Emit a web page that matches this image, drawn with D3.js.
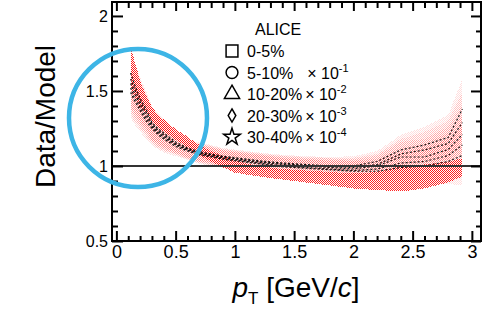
<!DOCTYPE html>
<html>
<head>
<meta charset="utf-8">
<script src="https://cdn.jsdelivr.net/npm/d3@7"></script>
<style>
  body { margin: 0; background: #fff; }
  text { font-family: "Liberation Sans", Arial, Helvetica, sans-serif; fill: #000; }
</style>
</head>
<body>
<script>
// pT points
var pt = [0.12, 0.15, 0.2, 0.25, 0.3, 0.35, 0.4, 0.5, 0.6, 0.7, 0.8, 0.9, 1.0, 1.2, 1.4, 1.6, 1.8, 2.0, 2.2, 2.4, 2.6, 2.8, 2.92];

// Data/Model ratio, one per centrality class
var ratio0 = [1.49, 1.44, 1.37, 1.30, 1.25, 1.21, 1.18, 1.13, 1.10, 1.075, 1.06, 1.045, 1.035, 1.015, 0.995, 0.985, 0.975, 0.965, 0.965, 0.99, 1.0, 1.03, 1.07];
var ratio1 = [1.52, 1.46, 1.39, 1.32, 1.26, 1.22, 1.19, 1.14, 1.105, 1.08, 1.065, 1.05, 1.04, 1.02, 1.0, 0.99, 0.98, 0.97, 0.98, 1.02, 1.03, 1.07, 1.14];
var ratio2 = [1.55, 1.49, 1.41, 1.34, 1.27, 1.23, 1.20, 1.145, 1.11, 1.085, 1.07, 1.055, 1.045, 1.025, 1.01, 1.0, 0.99, 0.98, 1.0, 1.06, 1.06, 1.11, 1.21];
var ratio3 = [1.58, 1.52, 1.43, 1.36, 1.28, 1.24, 1.21, 1.15, 1.115, 1.09, 1.075, 1.06, 1.05, 1.03, 1.015, 1.005, 0.995, 0.99, 1.01, 1.08, 1.107, 1.15, 1.29];
var ratio4 = [1.62, 1.55, 1.45, 1.38, 1.29, 1.25, 1.22, 1.16, 1.12, 1.095, 1.08, 1.065, 1.055, 1.035, 1.02, 1.01, 1.0, 1.0, 1.03, 1.107, 1.14, 1.19, 1.38];
var errPink = [0.17, 0.16, 0.14, 0.12, 0.11, 0.1, 0.09, 0.065, 0.06, 0.06, 0.06, 0.055, 0.055, 0.055, 0.055, 0.055, 0.06, 0.065, 0.07, 0.1, 0.12, 0.15, 0.2];

// dense red band
var bandRed = [1.665, 1.59, 1.48, 1.41, 1.35, 1.3, 1.27, 1.21, 1.16, 1.105, 1.065, 1.03, 0.995, 0.965, 0.945, 0.93, 0.915, 0.90, 0.90, 0.915, 0.93, 0.96, 0.99];
var errRed = [0.135, 0.12, 0.09, 0.06, 0.045, 0.04, 0.04, 0.035, 0.035, 0.035, 0.035, 0.04, 0.04, 0.035, 0.035, 0.04, 0.045, 0.05, 0.06, 0.085, 0.08, 0.07, 0.06];

// legend
var legendLabels = ["0-5%", "5-10%", "10-20%", "20-30%", "30-40%"];
var legendScale = ["", "-1", "-2", "-3", "-4"];
var legendSymbols = [d3.symbolSquare, d3.symbolCircle, d3.symbolTriangle, d3.symbolDiamond, d3.symbolStar];
var legendSizes = [140, 110, 100, 50, 85];

var xMajor = [0, 0.5, 1, 1.5, 2, 2.5, 3];
var yMajor = [0.5, 1, 1.5, 2];

var W = 484, H = 321;
var frame = {left: 112, right: 481, top: 2, bottom: 241};

var x = d3.scaleLinear().domain([-0.037, 3.077]).range([frame.left, frame.right]);
var y = d3.scaleLinear().domain([0.5, 2.093]).range([frame.bottom, frame.top]);

var svg = d3.select("body").append("svg")
    .attr("width", W)
    .attr("height", H);

svg.append("rect").attr("width", W).attr("height", H).attr("fill", "#fff");

// dotted fill patterns like ROOT
var defs = svg.append("defs");
function dotPattern(id, color, op) {
    var p = defs.append("pattern")
        .attr("id", id)
        .attr("patternUnits", "userSpaceOnUse")
        .attr("width", 2).attr("height", 2);
    p.append("rect").attr("x", 0).attr("y", 0).attr("width", 1).attr("height", 1)
        .attr("fill", color).attr("fill-opacity", op);
    p.append("rect").attr("x", 1).attr("y", 1).attr("width", 1).attr("height", 1)
        .attr("fill", color).attr("fill-opacity", op);
}
dotPattern("dotRed", "#ff0000", 0.85);
dotPattern("dotPink", "#ff0000", 0.13);

var series = [ratio0, ratio1, ratio2, ratio3, ratio4];

var plot = svg.append("g").attr("shape-rendering", "crispEdges");

function band(vals, errs, fill) {
    var area = d3.area()
        .x(function(d, i) { return x(pt[i]); })
        .y0(function(d, i) { return y(d - errs[i]); })
        .y1(function(d, i) { return y(d + errs[i]); });
    plot.append("path")
        .datum(vals)
        .attr("d", area)
        .attr("fill", fill);
}

series.forEach(function(s) { band(s, errPink, "url(#dotPink)"); });
band(bandRed, errRed, "url(#dotRed)");

var line = d3.line()
    .x(function(d, i) { return x(pt[i]); })
    .y(function(d) { return y(d); });

// dashed central values
series.forEach(function(s) {
    svg.append("path")
        .datum(s)
        .attr("d", line)
        .attr("fill", "none")
        .attr("stroke", "#000")
        .attr("stroke-opacity", 0.9)
        .attr("stroke-width", 1.2)
        .attr("stroke-dasharray", "2,2");
});

// line at 1
svg.append("line")
    .attr("x1", frame.left).attr("x2", frame.right)
    .attr("y1", y(1)).attr("y2", y(1))
    .attr("stroke", "#333").attr("stroke-width", 1.8);

// axes: major + minor ticks, all pointing inward
var xMinor = d3.range(0, 3.05, 0.1).filter(function(d) { return Math.abs(d * 2 - Math.round(d * 2)) > 1e-6; });
var yMinor = d3.range(0.6, 2.09, 0.1).filter(function(d) { return Math.abs(d * 2 - Math.round(d * 2)) > 1e-6; });

function styleAxis(g) {
    g.select(".domain").remove();
    g.selectAll(".tick line").attr("stroke", "#000").attr("stroke-width", 2);
}

svg.append("g").attr("transform", "translate(0," + frame.bottom + ")")
    .call(d3.axisBottom(x).tickValues(xMajor).tickSize(-10).tickPadding(4).tickFormat(d3.format("")))
    .call(styleAxis)
    .selectAll("text").attr("font-size", 18).attr("font-family", "Liberation Sans, Arial, sans-serif").attr("fill", "#000");
svg.append("g").attr("transform", "translate(0," + frame.bottom + ")")
    .call(d3.axisBottom(x).tickValues(xMinor).tickSize(-5).tickFormat(""))
    .call(styleAxis);
svg.append("g").attr("transform", "translate(0," + frame.top + ")")
    .call(d3.axisTop(x).tickValues(xMajor).tickSize(-9).tickFormat(""))
    .call(styleAxis);
svg.append("g").attr("transform", "translate(0," + frame.top + ")")
    .call(d3.axisTop(x).tickValues(xMinor).tickSize(-6).tickFormat(""))
    .call(styleAxis);

svg.append("g").attr("transform", "translate(" + frame.left + ",0)")
    .call(d3.axisLeft(y).tickValues(yMajor).tickSize(-11).tickPadding(4).tickFormat(d3.format("")))
    .call(styleAxis)
    .selectAll("text").attr("font-size", 16).attr("font-family", "Liberation Sans, Arial, sans-serif").attr("fill", "#000");
svg.append("g").attr("transform", "translate(" + frame.left + ",0)")
    .call(d3.axisLeft(y).tickValues(yMinor).tickSize(-6).tickFormat(""))
    .call(styleAxis);
svg.append("g").attr("transform", "translate(" + frame.right + ",0)")
    .call(d3.axisRight(y).tickValues(yMajor).tickSize(-10).tickFormat(""))
    .call(styleAxis);
svg.append("g").attr("transform", "translate(" + frame.right + ",0)")
    .call(d3.axisRight(y).tickValues(yMinor).tickSize(-5).tickFormat(""))
    .call(styleAxis);

// frame
svg.append("rect")
    .attr("x", frame.left).attr("y", frame.top)
    .attr("width", frame.right - frame.left).attr("height", frame.bottom - frame.top)
    .attr("fill", "none").attr("stroke", "#000").attr("stroke-width", 2);

// legend
svg.append("text").attr("x", 255).attr("y", 35).attr("font-size", 16).text("ALICE");

legendLabels.forEach(function(lab, i) {
    var by = 57 + i * 21.5;
    svg.append("path")
        .attr("transform", "translate(232," + (by - 6) + ")")
        .attr("d", d3.symbol().type(legendSymbols[i]).size(legendSizes[i])())
        .attr("fill", "none").attr("stroke", "#000").attr("stroke-width", 1.5);
    var t = svg.append("text").attr("x", 247).attr("y", by).attr("font-size", 16);
    t.append("tspan").text(lab);
    if (legendScale[i]) {
        t.append("tspan").attr("dx", i === 1 ? 14 : 3).text("\u00d7 10");
        t.append("tspan").attr("dy", -7).attr("font-size", 11).text(legendScale[i]);
    }
});

// axis titles
var xt = svg.append("text")
    .attr("x", 296).attr("y", 297)
    .attr("text-anchor", "middle")
    .attr("font-size", 28);
xt.append("tspan").attr("font-style", "italic").text("p");
xt.append("tspan").attr("font-size", 17).attr("dy", 7).text("T");
xt.append("tspan").attr("dy", -7).text(" [GeV/");
xt.append("tspan").attr("font-style", "italic").text("c");
xt.append("tspan").text("]");

svg.append("text")
    .attr("transform", "translate(55,116.5) rotate(-90)")
    .attr("text-anchor", "middle")
    .attr("font-size", 28)
    .text("Data/Model");

// highlight circle
svg.append("ellipse")
    .attr("cx", 138).attr("cy", 118)
    .attr("rx", 69).attr("ry", 69)
    .attr("fill", "none")
    .attr("stroke", "#3db5e6")
    .attr("stroke-width", 4.5);
</script>
</body>
</html>
